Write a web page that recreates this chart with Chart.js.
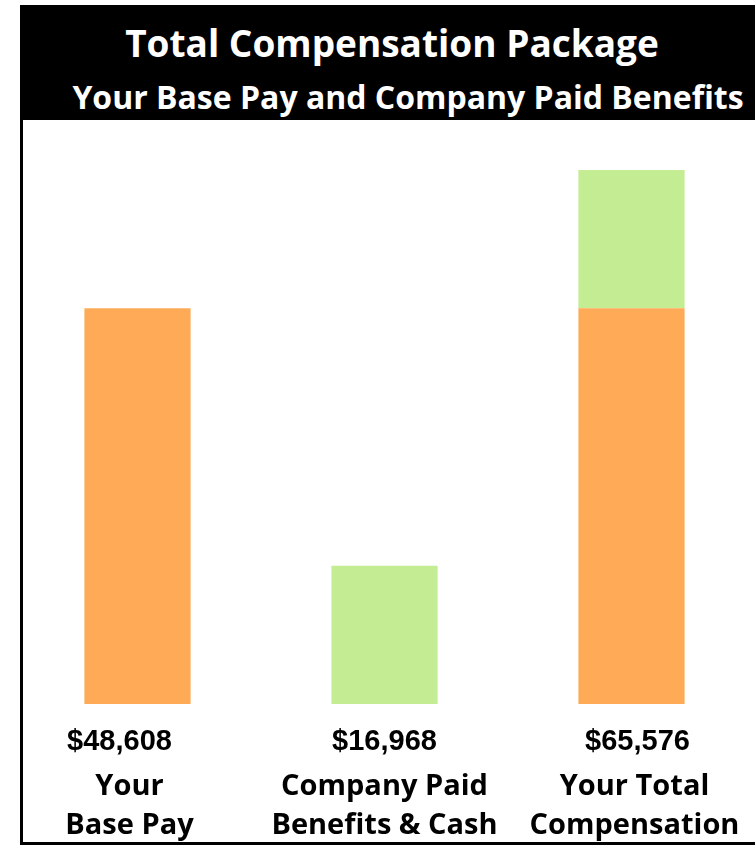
<!DOCTYPE html>
<html>
<head>
<meta charset="utf-8">
<script src="https://cdn.jsdelivr.net/npm/chart.js@4.4.1/dist/chart.umd.min.js"></script>
<style>
  html, body { margin: 0; padding: 0; background: #fff; }
  #wrap { position: relative; width: 755px; height: 853px; overflow: hidden; }
  #c { position: absolute; left: 0; top: 0; }
  .banner { position: absolute; left: 20px; top: 5px; width: 735px; height: 115px; background: #000; }
  .t1, .t2 { position: absolute; color: #fff; font-family: "Open Sans", sans-serif; font-weight: 700; white-space: nowrap; transform: translate(-50%, -50%); line-height: 1; }
  .t1 { left: 392px; top: 42px; font-size: 37px; }
  .t2 { left: 408px; top: 97px; font-size: 32px; }
  .vline { position: absolute; left: 20px; top: 120px; width: 3px; height: 725px; background: #000; }
  .hline { position: absolute; left: 20px; top: 842px; width: 735px; height: 3px; background: #000; }
</style>
</head>
<body>
<div id="wrap">
  <canvas id="c" width="755" height="853"></canvas>
  <div class="banner"></div>
  <div class="t1">Total Compensation Package</div>
  <div class="t2">Your Base Pay and Company Paid Benefits</div>
  <div class="vline"></div>
  <div class="hline"></div>
</div>
<script>
const categories = [["Your", "Base Pay"], ["Company Paid", "Benefits & Cash"], ["Your Total", "Compensation"]];
const basePay = [48608, null, 48608];
const benefits = [null, 16968, 16968];
const valueLabels = ["$48,608", "$16,968", "$65,576"];

const labelPlugin = {
  id: 'labels',
  afterDraw(chart) {
    const ctx = chart.ctx;
    const xs = chart.scales.x;
    const bottom = chart.chartArea.bottom;
    const valNudge = [-18, 0, 6];
    const catNudge = [-8, 0, 3];
    ctx.save();
    ctx.fillStyle = '#000';
    ctx.textAlign = 'center';
    ctx.textBaseline = 'middle';
    ctx.font = 'bold 29px "Liberation Sans", Arial, sans-serif';
    valueLabels.forEach((t, i) => {
      ctx.fillText(t, xs.getPixelForValue(i) + valNudge[i], bottom + 38);
    });
    ctx.font = 'bold 29px "Open Sans", sans-serif';
    categories.forEach((lines, i) => {
      lines.forEach((ln, j) => {
        ctx.fillText(ln, xs.getPixelForValue(i) + catNudge[i], bottom + 83 + j * 39);
      });
    });
    ctx.restore();
  }
};

new Chart(document.getElementById('c'), {
  type: 'bar',
  data: {
    labels: categories,
    datasets: [
      { label: 'Base Pay', data: basePay, backgroundColor: '#FFAA57', barPercentage: 0.43, categoryPercentage: 1 },
      { label: 'Benefits', data: benefits, backgroundColor: '#C4ED93', barPercentage: 0.43, categoryPercentage: 1 }
    ]
  },
  options: {
    responsive: false,
    animation: false,
    layout: { padding: { left: 14, right: 0, top: 134, bottom: 149 } },
    plugins: { legend: { display: false }, tooltip: { enabled: false }, title: { display: false } },
    scales: {
      x: { stacked: true, display: false },
      y: { stacked: true, display: false, min: 0, max: 70000 }
    }
  },
  plugins: [labelPlugin]
});
</script>
</body>
</html>
